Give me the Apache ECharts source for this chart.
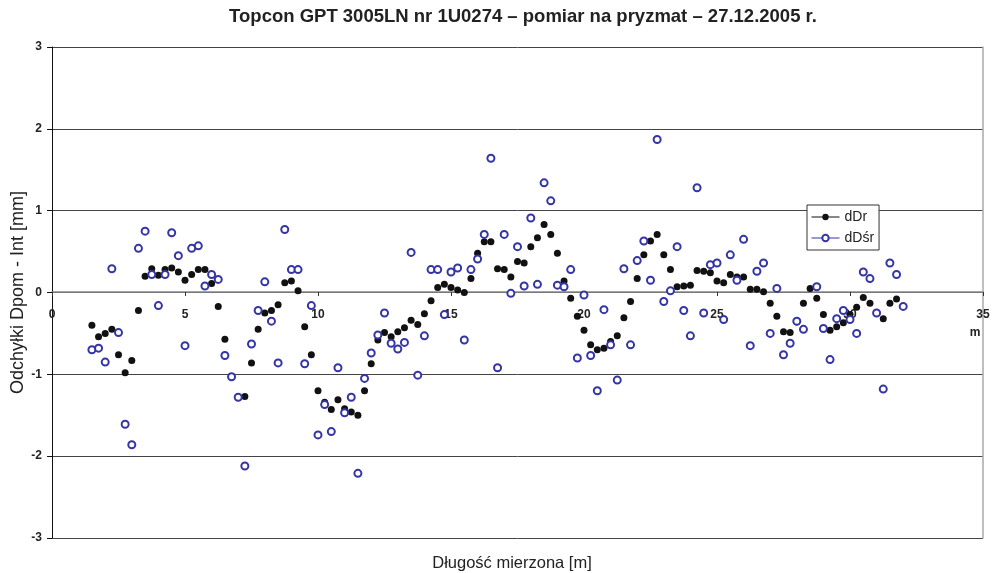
<!DOCTYPE html>
<html>
<head>
<meta charset="utf-8">
<script src="https://cdn.jsdelivr.net/npm/echarts@6/dist/echarts.min.js"></script>
<style>
html,body{margin:0;padding:0;background:#fff;}
#chart{width:992px;height:573px;}
</style>
</head>
<body>
<div id="chart"></div>
<script>
// Measured length [m]
var lengths = [
 1.5,1.75,2,2.25,2.5,2.75,3,3.25,3.5,3.75,4,4.25,4.5,4.75,5,5.25,5.5,5.75,6,6.25,
 6.5,6.75,7,7.25,7.5,7.75,8,8.25,8.5,8.75,9,9.25,9.5,9.75,10,10.25,10.5,10.75,11,11.25,
 11.5,11.75,12,12.25,12.5,12.75,13,13.25,13.5,13.75,14,14.25,14.5,14.75,15,15.25,15.5,15.75,16,16.25,
 16.5,16.75,17,17.25,17.5,17.75,18,18.25,18.5,18.75,19,19.25,19.5,19.75,20,20.25,20.5,20.75,21,21.25,
 21.5,21.75,22,22.25,22.5,22.75,23,23.25,23.5,23.75,24,24.25,24.5,24.75,25,25.25,25.5,25.75,26,26.25,
 26.5,26.75,27,27.25,27.5,27.75,28,28.25,28.5,28.75,29,29.25,29.5,29.75,30,30.25,30.5,30.75,31,31.25,
 31.5,31.75,32
];
// dDr values [mm]
var dDr = [
 -0.40,-0.54,-0.50,-0.45,-0.76,-0.98,-0.83,-0.22,0.20,0.29,0.21,0.28,0.30,0.25,0.15,0.22,0.28,0.28,0.11,-0.17,
 -0.57,null,null,-1.27,-0.86,-0.45,-0.25,-0.22,-0.15,0.12,0.14,0.02,-0.42,-0.76,-1.20,-1.34,-1.43,-1.31,-1.42,-1.46,
 -1.50,-1.20,-0.87,-0.58,-0.49,-0.54,-0.48,-0.43,-0.34,-0.39,-0.26,-0.10,0.06,0.10,0.06,0.03,0.00,0.17,0.48,0.62,
 0.62,0.29,0.28,0.19,0.38,0.36,0.56,0.67,0.83,0.71,0.48,0.14,-0.07,-0.29,-0.46,-0.64,-0.70,-0.68,-0.60,-0.53,
 -0.31,-0.11,0.17,0.46,0.63,0.71,0.46,0.28,0.07,0.08,0.09,0.27,0.26,0.24,0.14,0.12,0.22,0.19,0.19,0.04,
 0.04,0.01,-0.13,-0.29,-0.48,-0.49,-0.36,-0.13,0.05,-0.07,-0.27,-0.46,-0.42,-0.37,-0.27,-0.18,-0.06,-0.13,null,-0.32,
 -0.13,-0.08,null
];
// dDśr values [mm]
var dDsr = [
 -0.70,-0.68,-0.85,0.29,-0.49,-1.61,-1.86,0.54,0.75,0.22,-0.16,0.22,0.73,0.45,-0.65,0.54,0.57,0.08,0.22,0.16,
 -0.77,-1.03,-1.28,-2.12,-0.63,-0.22,0.13,-0.35,-0.86,0.77,0.28,0.28,-0.87,-0.16,-1.74,-1.37,-1.70,-0.92,-1.47,-1.28,
 -2.21,-1.05,-0.74,-0.52,-0.25,-0.62,-0.69,-0.61,0.49,-1.01,-0.53,0.28,0.28,-0.27,0.25,0.30,-0.58,0.28,0.41,0.71,
 1.64,-0.92,0.71,-0.01,0.56,0.08,0.91,0.10,1.34,1.12,0.09,0.07,0.28,-0.80,-0.03,-0.77,-1.20,-0.21,-0.64,-1.07,
 0.29,-0.64,0.39,0.63,0.15,1.87,-0.11,0.02,0.56,-0.22,-0.53,1.28,-0.25,0.34,0.36,-0.33,0.46,0.15,0.65,-0.65,
 0.26,0.36,-0.50,0.05,-0.76,-0.62,-0.35,-0.45,null,0.07,-0.44,-0.82,-0.32,-0.22,-0.33,-0.50,0.25,0.17,-0.25,-1.18,
 0.36,0.22,-0.17
];
var yTicks = [-3,-2,-1,0,1,2,3];
var xTicks = [0,5,10,15,20,25,30,35];

function pairs(vals){
  var out = [];
  for (var i = 0; i < lengths.length; i++) {
    if (vals[i] !== null) out.push([lengths[i], vals[i]]);
  }
  return out;
}

var chart = echarts.init(document.getElementById('chart'), null, {renderer:'canvas'});
var FONT = 'Liberation Sans, Arial, sans-serif';
var XMIN = xTicks[0], XMAX = xTicks[xTicks.length-1];
var YMIN = yTicks[0], YMAX = yTicks[yTicks.length-1];
chart.setOption({
  animation: false,
  backgroundColor: '#ffffff',
  textStyle: {fontFamily: FONT},
  grid: [
    {left: 52, right: 9, top: 47, bottom: 35, containLabel: false, outerBoundsMode: 'none'},
    // upper half: its bottom edge is the zero line, carrying the x-axis ticks and labels
    {left: 52, right: 9, top: 47, bottom: 281, containLabel: false, outerBoundsMode: 'none'}
  ],
  xAxis: [{
    gridIndex: 0, type: 'value', min: XMIN, max: XMAX, interval: 5,
    axisLine: {show: false}, axisTick: {show: false}, axisLabel: {show: false}, splitLine: {show: false}
  }, {
    gridIndex: 1, type: 'value', min: XMIN, max: XMAX, interval: 5, position: 'bottom',
    axisLine: {show: true, onZero: false, lineStyle: {color: '#888', width: 1.5}},
    axisTick: {show: true, inside: false, length: 4, lineStyle: {color: '#333'}},
    axisLabel: {fontSize: 12, fontWeight: 'bold', color: '#222', margin: 17, fontFamily: FONT},
    splitLine: {show: false}
  }],
  yAxis: [{
    gridIndex: 0, type: 'value', min: YMIN, max: YMAX, interval: 1,
    name: 'Odchyłki Dpom - Int [mm]', nameLocation: 'middle', nameGap: 25, nameMoveOverlap: false,
    nameTextStyle: {fontSize: 18, color: '#222', fontFamily: FONT},
    axisLine: {show: true, onZero: false, lineStyle: {color: '#111', width: 1}},
    axisTick: {show: true, length: 5, lineStyle: {color: '#111'}},
    axisLabel: {fontSize: 12, fontWeight: 'bold', color: '#222', margin: 10, fontFamily: FONT},
    splitLine: {show: true, lineStyle: {color: '#444', width: 1}}
  }, {
    gridIndex: 0, type: 'value', position: 'right', min: YMIN, max: YMAX, interval: 1,
    axisLine: {show: true, onZero: false, lineStyle: {color: '#aaa', width: 1.5}},
    axisTick: {show: false}, axisLabel: {show: false}, splitLine: {show: false}
  }, {
    gridIndex: 1, type: 'value', min: 0, max: YMAX, interval: 1, show: false
  }],
  legend: {
    orient: 'vertical', left: 807, top: 205,
    backgroundColor: '#fff', borderColor: '#333', borderWidth: 1,
    padding: [5, 5, 5, 4], itemGap: 7, itemWidth: 28, itemHeight: 8,
    textStyle: {fontSize: 14, color: '#222', fontFamily: FONT},
    lineStyle: {opacity: 1, width: 1},
    data: ['dDr', 'dDśr']
  },
  series: [{
    name: 'dDr', type: 'line', xAxisIndex: 0, yAxisIndex: 0, data: pairs(dDr),
    symbol: 'circle', symbolSize: 7,
    itemStyle: {color: '#111'},
    lineStyle: {opacity: 0, color: '#111'},
    emphasis: {disabled: true}, z: 2
  }, {
    name: 'dDśr', type: 'line', xAxisIndex: 0, yAxisIndex: 0, data: pairs(dDsr),
    symbol: 'emptyCircle', symbolSize: 7,
    itemStyle: {color: '#3535a6', borderWidth: 1},
    lineStyle: {opacity: 0, color: '#3535a6'},
    emphasis: {disabled: true}, z: 3
  }],
  graphic: [
    {type: 'text', x: 523, y: 17, style: {text: 'Topcon GPT 3005LN nr 1U0274 – pomiar na pryzmat – 27.12.2005 r.', font: 'bold 18.5px ' + FONT, fill: '#222', align: 'center', verticalAlign: 'middle'}},
    {type: 'text', x: 512, y: 563, style: {text: 'Długość mierzona [m]', font: '16.5px ' + FONT, fill: '#222', align: 'center', verticalAlign: 'middle'}},
    {type: 'text', x: 975, y: 333, style: {text: 'm', font: 'bold 12px ' + FONT, fill: '#222', align: 'center', verticalAlign: 'middle'}}
  ]
});
</script>
</body>
</html>
